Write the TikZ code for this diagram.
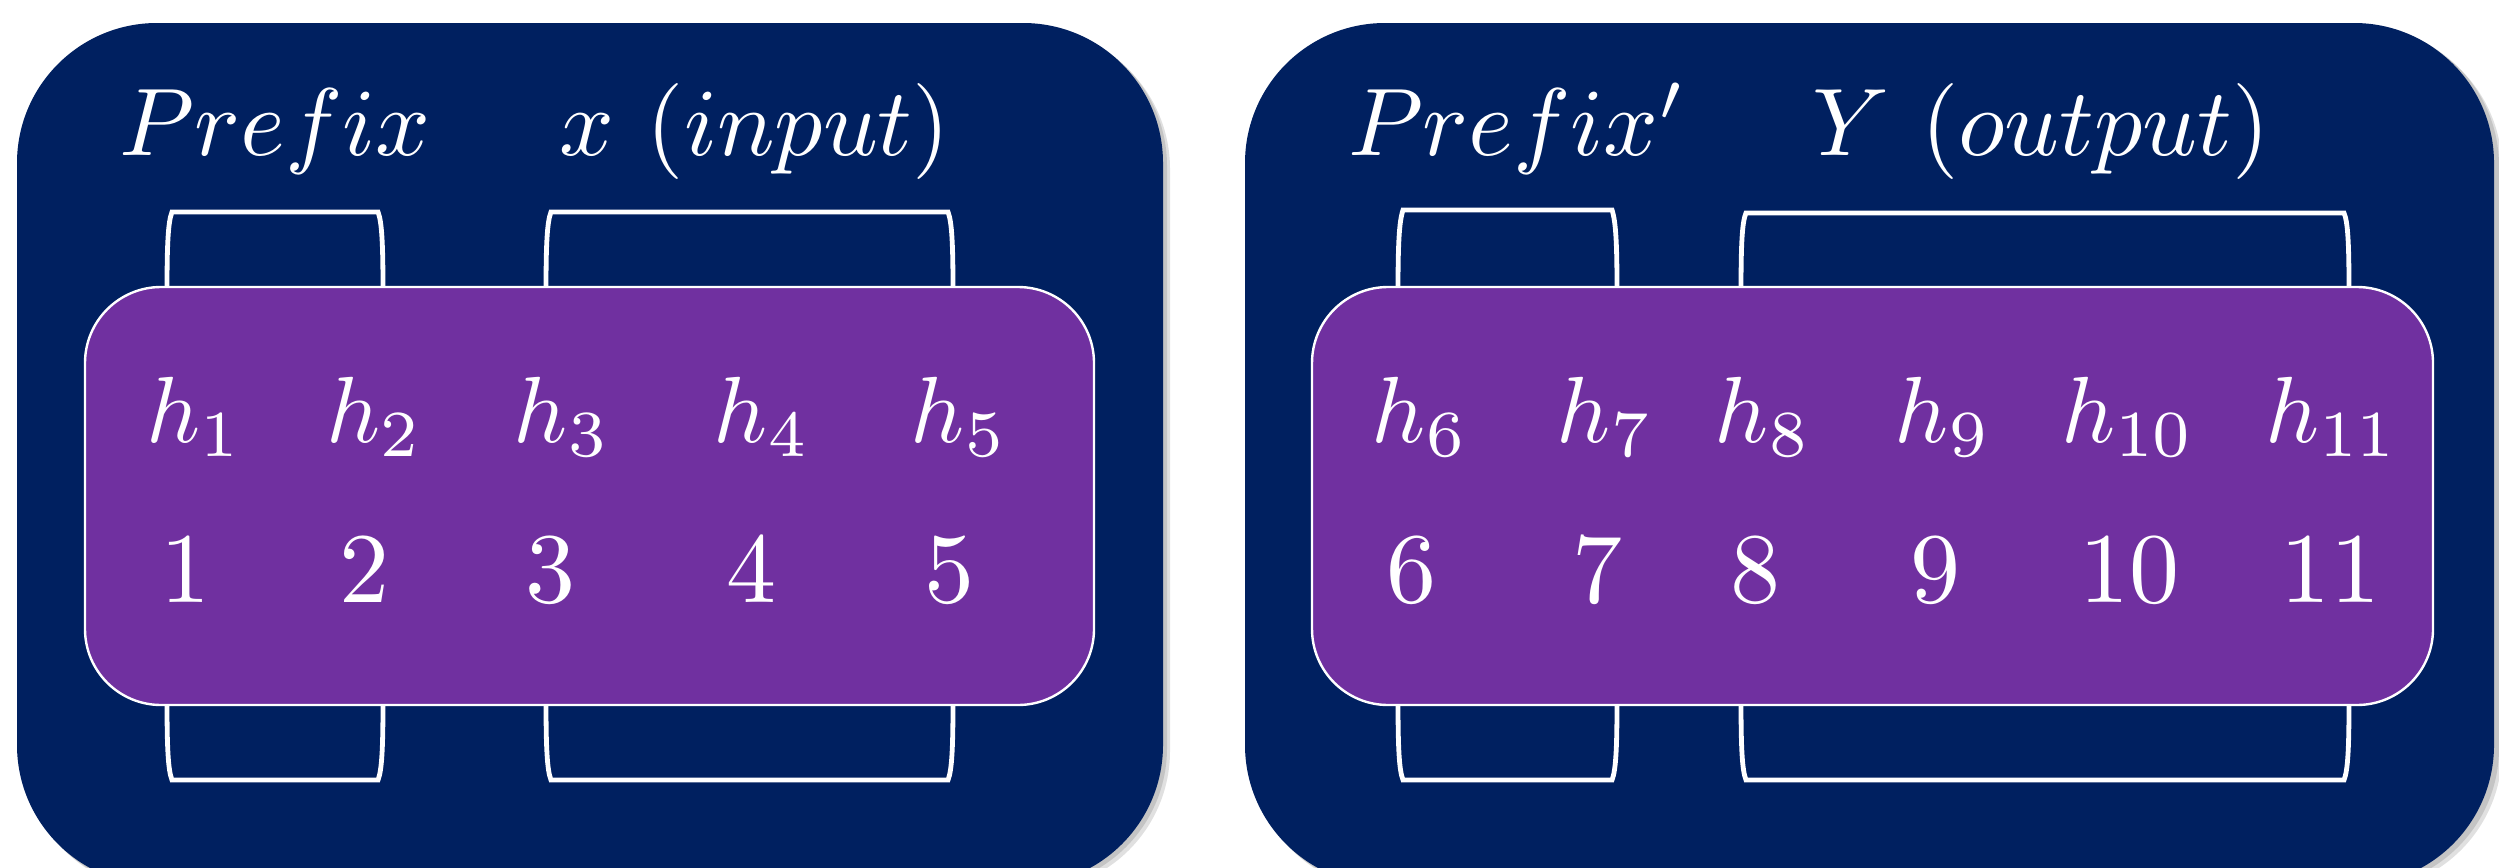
\documentclass[tikz,border=0pt]{standalone}
\definecolor{navy}{HTML}{002060}
\definecolor{purp}{HTML}{7030A0}
\newcommand{\cuppair}[3]{% x1, x2, top y
  \draw[cup] (#1,292) .. controls (#1,245) and ({#1+1},222) .. ({#1+5},#3) -- ({#2-5},#3) .. controls ({#2-1},222) and (#2,245) .. (#2,292);
  \draw[cup] (#1,700) .. controls (#1,747) and ({#1+1},770) .. ({#1+5},780) -- ({#2-5},780) .. controls ({#2-1},770) and (#2,747) .. (#2,700);
}
\begin{document}
\begin{tikzpicture}[x=0.5pt,y=-0.5pt,
  outer/.style={fill=navy, rounded corners=70pt},
  shade/.style={fill=black, opacity=0.12, rounded corners=70pt},
  inner/.style={fill=purp, draw=white, line width=1.2pt, rounded corners=38pt},
  cup/.style={draw=white, line width=2.4pt},
  title/.style={text=white, anchor=base, inner sep=0pt, scale=4.8},
  hlab/.style={text=white, anchor=base, inner sep=0pt, scale=4.7},
  num/.style={text=white, anchor=base, inner sep=0pt, scale=5.0}]
\useasboundingbox (0,0) rectangle (2499,867);
\clip (0,0) rectangle (2499,867);
\fill[white] (0,0) rectangle (2499,867);
% shadows
\fill[shade] (23,29) rectangle (1170,891);
\fill[shade] (20,26) rectangle (1167,888);
\fill[shade] (1251,29) rectangle (2502,891);
\fill[shade] (1248,26) rectangle (2499,888);
% outer panels
\fill[outer] (17,23) rectangle (1163,885);
\fill[outer] (1245,23) rectangle (2494,885);
% cups
\cuppair{167}{383}{212}
\cuppair{546}{953}{212}
\cuppair{1398}{1617}{210}
\cuppair{1741}{2349}{213}
% inner panels
\draw[inner] (85,287) rectangle (1094,705);
\draw[inner] (1312,287) rectangle (2433,705);
% titles
\node[title] (t1) at (275,155) {$Prefix$};
\node[title] (t2) at (755,155) {$x\ (input)$};
\node[title] (t3) at (1517,155) {$Prefix'$};
\node[title] (t4) at (2041,155) {$Y\ (output)$};
% h labels
\node[hlab] (h1) at (195,442) {$h_1$};
\node[hlab] (h2) at (375,442) {$h_2$};
\node[hlab] (h3) at (562,442) {$h_3$};
\node[hlab] (h4) at (762,442) {$h_4$};
\node[hlab] (h5) at (959,442) {$h_5$};
\node[hlab] (h6) at (1420,442) {$h_6$};
\node[hlab] (h7) at (1605,442) {$h_7$};
\node[hlab] (h8) at (1763,442) {$h_8$};
\node[hlab] (h9) at (1943,442) {$h_9$};
\node[hlab] (h10) at (2128,442) {$h_{10}$};
\node[hlab] (h11) at (2332,442) {$h_{11}$};
% numbers
\node[num] (n1) at (185,602) {1};
\node[num] (n2) at (364,602) {2};
\node[num] (n3) at (550,602) {3};
\node[num] (n4) at (751,602) {4};
\node[num] (n5) at (949,602) {5};
\node[num] (n6) at (1411,602) {6};
\node[num] (n7) at (1597,602) {7};
\node[num] (n8) at (1755,602) {8};
\node[num] (n9) at (1935,602) {9};
\node[num] (n10) at (2129,602) {10};
\node[num] (n11) at (2330,602) {11};
\end{tikzpicture}
\end{document}
